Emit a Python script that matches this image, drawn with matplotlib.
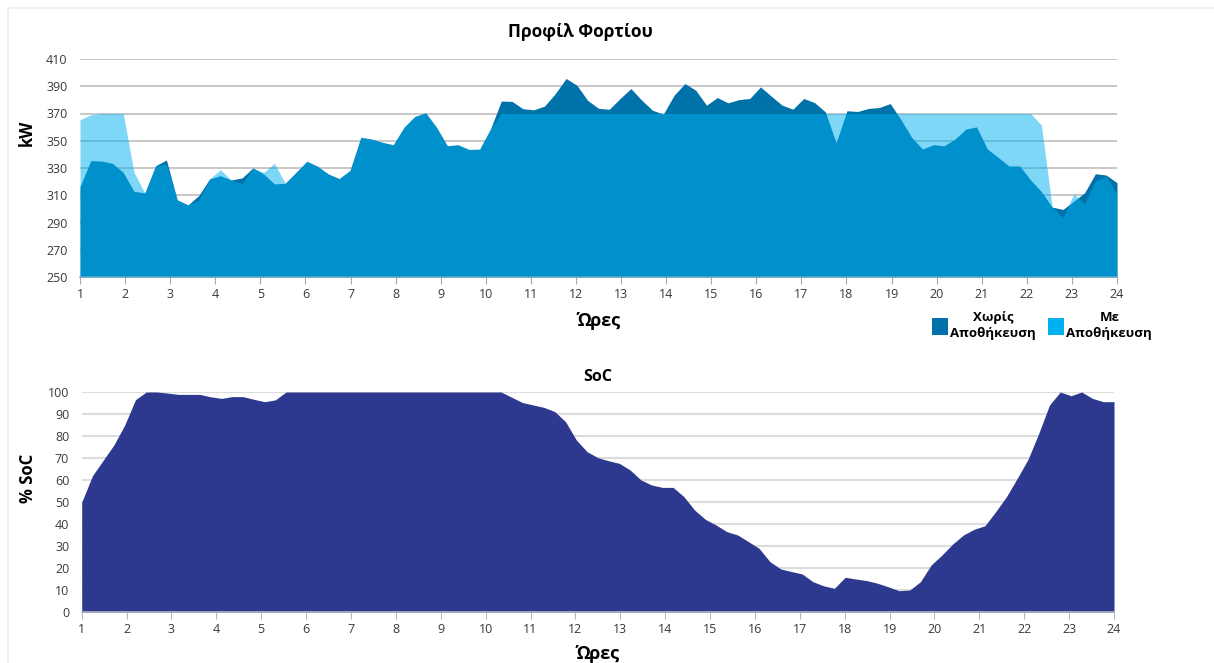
import numpy as np
import matplotlib
matplotlib.use('Agg')
import matplotlib.pyplot as plt
from matplotlib.patches import Patch
from matplotlib.lines import Line2D

plt.rcParams['font.family'] = ['Open Sans', 'DejaVu Sans']

# 15-minute steps, hours 1..24 (97 points)
hours = np.linspace(1, 24, 97)
hour_ticks = list(range(1, 25))

# load without storage (kW)
load_without = [
    316.3, 335.4, 335.1, 333.4, 326.8, 312.9, 311.7, 331.7, 335.9, 306.6,
    302.9, 309.8, 322.0, 324.4, 321.2, 322.7, 330.0, 325.6, 318.3, 318.8,
    326.8, 334.9, 331.2, 325.5, 322.2, 328.2, 352.5, 351.2, 348.8, 347.0,
    359.9, 367.8, 370.5, 359.9, 346.3, 347.0, 343.6, 343.8, 358.6, 379.1,
    378.9, 373.5, 372.7, 375.4, 384.6, 395.7, 390.7, 379.6, 373.8, 373.1,
    381.0, 388.3, 379.8, 372.4, 369.5, 383.4, 392.0, 387.1, 376.1, 381.7,
    377.8, 380.2, 381.0, 389.5, 382.7, 376.1, 373.2, 381.0, 378.0, 371.2,
    348.5, 372.0, 371.5, 373.7, 374.4, 377.3, 365.5, 352.4, 343.9, 347.1,
    346.3, 351.2, 358.5, 360.2, 343.9, 337.8, 331.5, 331.5, 321.2, 312.7,
    301.3, 299.6, 305.7, 311.8, 325.8, 324.8, 319.2,
]

# load with storage (kW)
load_with = [
    365.4, 369.0, 370.0, 370.0, 370.0, 326.8, 311.7, 331.7, 333.0, 306.6,
    302.9, 306.5, 322.0, 328.8, 321.2, 318.5, 330.0, 326.8, 333.4, 318.8,
    326.8, 334.9, 331.2, 325.5, 322.2, 328.2, 352.5, 351.2, 348.8, 347.0,
    359.9, 367.8, 370.0, 359.9, 346.3, 347.0, 343.6, 343.8, 358.6, 370.0,
    370.0, 370.0, 370.0, 370.0, 370.0, 370.0, 370.0, 370.0, 370.0, 370.0,
    370.0, 370.0, 370.0, 370.0, 370.0, 370.0, 370.0, 370.0, 370.0, 370.0,
    370.0, 370.0, 370.0, 370.0, 370.0, 370.0, 370.0, 370.0, 370.0, 370.0,
    370.0, 370.0, 370.0, 370.0, 370.0, 370.0, 370.0, 370.0, 370.0, 370.0,
    370.0, 370.0, 370.0, 370.0, 370.0, 370.0, 370.0, 370.0, 370.0, 361.5,
    301.3, 293.4, 311.1, 303.7, 320.4, 324.0, 310.6,
]

# battery state of charge (%)
soc = [
    50.0, 62.0, 69.0, 76.0, 85.0, 96.5, 100.0, 100.0, 99.5, 98.9,
    98.9, 98.9, 97.8, 97.1, 97.9, 97.9, 96.7, 95.6, 96.4, 100.0,
    100.0, 100.0, 100.0, 100.0, 100.0, 100.0, 100.0, 100.0, 100.0, 100.0,
    100.0, 100.0, 100.0, 100.0, 100.0, 100.0, 100.0, 100.0, 100.0, 100.0,
    97.6, 95.2, 94.1, 93.0, 91.1, 86.5, 78.2, 72.9, 70.2, 68.8,
    67.6, 64.6, 60.1, 57.8, 56.7, 56.7, 52.5, 46.4, 42.2, 39.6,
    36.6, 35.1, 32.1, 29.0, 23.0, 19.7, 18.5, 17.4, 13.9, 12.0,
    10.9, 15.9, 15.1, 14.4, 13.2, 11.6, 9.8, 10.1, 13.9, 21.5,
    26.0, 31.0, 35.1, 37.7, 39.3, 45.7, 52.5, 60.8, 69.4, 81.2,
    94.1, 100.0, 98.3, 100.0, 97.1, 95.6, 95.6,
]

kw_ticks = list(range(250, 411, 20))
soc_ticks = list(range(0, 101, 10))

c_without = '#0072AA'
c_with = '#00B0F0'
c_soc = '#2D398E'
tick_col = '#3a3a3a'

fig = plt.figure(figsize=(12.14, 6.63), dpi=100)
fig.patch.set_facecolor('white')

# faint page frame
fig.add_artist(Line2D([8 / 1214, 8 / 1214], [0, 1 - 8 / 663], color='#eeeeee', lw=1.5))
fig.add_artist(Line2D([8 / 1214, 1], [1 - 8 / 663, 1 - 8 / 663], color='#f2f2f2', lw=1.5))

# ---- load profile ----
ax1 = fig.add_axes([80 / 1214, 1 - 277 / 663, 1037 / 1214, 218 / 663])
ax1.fill_between(hours, 250, load_without, color=c_without, lw=0, zorder=2)
ax1.fill_between(hours, 250, load_with, color=c_with, alpha=0.5, lw=0, zorder=3)
ax1.set_xlim(1, 24)
ax1.set_ylim(250, 410)
ax1.set_yticks(kw_ticks)
ax1.set_xticks(hour_ticks)
ax1.grid(axis='y', color='#c4c4c4', lw=1.3, zorder=0)
ax1.set_axisbelow(True)
for s in ['top', 'right', 'left']:
    ax1.spines[s].set_visible(False)
ax1.spines['bottom'].set_color('#a8a8a8')
ax1.spines['bottom'].set_linewidth(1.2)
ax1.tick_params(axis='y', length=0, labelsize=9, colors=tick_col, pad=9)
ax1.tick_params(axis='x', length=5, color='#a8a8a8', labelsize=9, colors=tick_col, pad=3)
ax1.set_ylabel('kW', fontsize=12, fontweight='bold')
ax1.yaxis.set_label_coords(-0.043, 0.66)
ax1.set_xlabel('Ώρες', fontsize=13, fontweight='bold', labelpad=8)
fig.text(580 / 1214, 1 - 32 / 663, 'Προφίλ Φορτίου', ha='center', va='center',
         fontsize=12.5, fontweight='bold')

handles = [Patch(facecolor=c_without, edgecolor='none'),
           Patch(facecolor=c_with, edgecolor='none')]
leg = fig.legend(handles, ['Χωρίς\nΑποθήκευση', 'Με\nΑποθήκευση'],
                 loc='upper left', bbox_to_anchor=(920 / 1214, 1 - 299 / 663),
                 ncol=2, frameon=False, handlelength=1.2, handleheight=1.6,
                 handletextpad=0.2, columnspacing=0.9, labelspacing=0.3,
                 prop={'size': 9.5, 'weight': 'bold'})
for t in leg.get_texts():
    t.set_multialignment('center')
    t.set_linespacing(1.35)

# ---- SoC ----
ax2 = fig.add_axes([81.7 / 1214, 1 - 612.3 / 663, 1032.3 / 1214, 220.3 / 663])
ax2.fill_between(hours, 0, soc, color=c_soc, lw=0, zorder=2)
ax2.set_xlim(1, 24)
ax2.set_ylim(0, 100)
ax2.set_yticks(soc_ticks)
ax2.set_xticks(hour_ticks)
ax2.grid(axis='y', color='#dcdcdc', lw=1.5, zorder=0)
ax2.set_axisbelow(True)
for s in ['top', 'right', 'left']:
    ax2.spines[s].set_visible(False)
ax2.spines['bottom'].set_color('#b4b7c8')
ax2.spines['bottom'].set_linewidth(1.2)
ax2.tick_params(axis='y', length=0, labelsize=9, colors=tick_col, pad=9)
ax2.tick_params(axis='x', length=5, color='#b4b7c8', labelsize=9, colors=tick_col, pad=3)
ax2.set_ylabel('% SoC', fontsize=12, fontweight='bold')
ax2.yaxis.set_label_coords(-0.043, 0.61)
ax2.set_xlabel('Ώρες', fontsize=13, fontweight='bold', labelpad=6)
ax2.set_title('SoC', fontsize=11.5, fontweight='bold', pad=8)

fig.savefig('out.png', dpi=100)
